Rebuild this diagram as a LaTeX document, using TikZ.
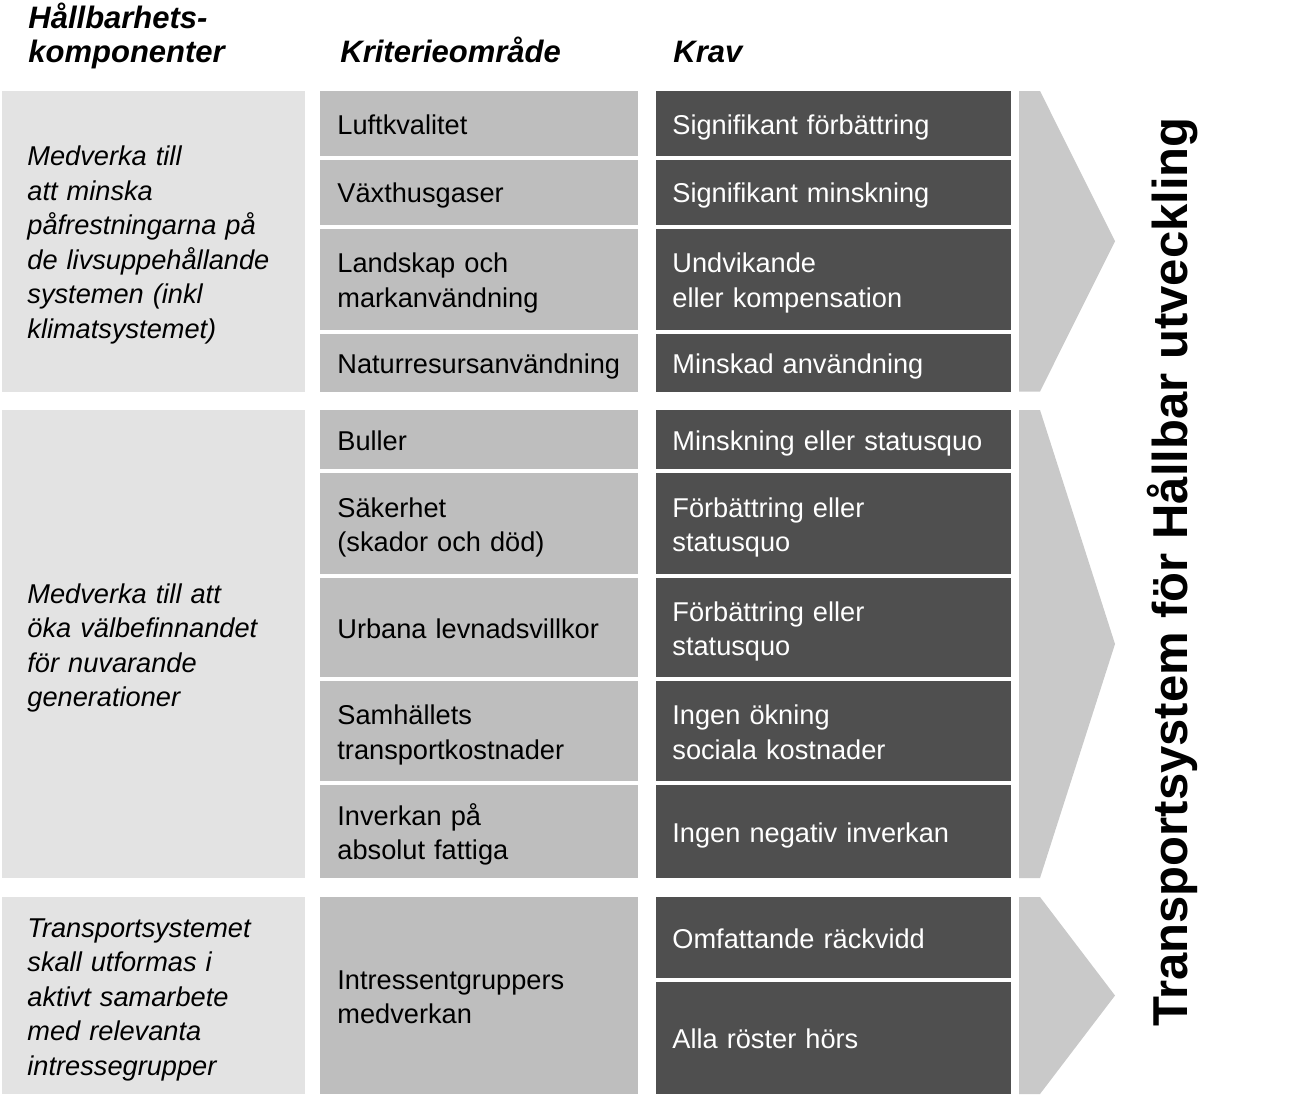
\documentclass[tikz,border=0pt]{standalone}
\usepackage{fontspec}
\setmainfont{Liberation Sans}
\definecolor{KompLight}{gray}{0.89}
\definecolor{KritGray}{gray}{0.745}
\definecolor{KravDark}{gray}{0.31}
\definecolor{ArrowGray}{gray}{0.79}
\newcommand\RowStrut{\rule[-5pt]{0pt}{20.6pt}}

\begin{document}
\begin{tikzpicture}[x=0.5pt,y=-0.5pt,
    BodyFont/.style={font=\fontsize{13.6}{17.25}\selectfont},
    HeadFont/.style={font=\fontsize{15.5}{17}\selectfont\bfseries\itshape},
    KompBox/.style={BodyFont,fill=KompLight,anchor=north west,inner xsep=12.5pt,
      text width=126.5pt,align=left,minimum width=151.5pt,font=\fontsize{13.6}{17.25}\selectfont\itshape},
    KritBox/.style={BodyFont,fill=KritGray,anchor=north west,inner xsep=8.5pt,
      text width=142pt,align=left,minimum width=159pt},
    KravBox/.style={BodyFont,fill=KravDark,text=white,anchor=north west,inner xsep=8pt,
      text width=161.5pt,align=left,minimum width=177.5pt}]
    \useasboundingbox (0,0) rectangle (1299,1098);
    % column heads
    \node[HeadFont,anchor=base west,align=left,inner sep=0pt] (HeadKomp) at (28,62) {Hållbarhets-\\komponenter};
    \node[HeadFont,anchor=base west,inner sep=0pt] (HeadKrit) at (340,62) {Kriterieområde};
    \node[HeadFont,anchor=base west,inner sep=0pt] (HeadKrav) at (673,62) {Krav};
    % chevrons, one per band
    \foreach \t/\b in {91/391.5, 410/878, 897/1094}{
      \fill[ArrowGray] (1019,\t) -- (1040,\t) -- (1115,{(\t+\b)/2})
        -- (1040,\b) -- (1019,\b) -- cycle;
    }
    % sustainability components
    \foreach \t/\b/\txt [count=\i] in {
      91/391.5/{Medverka till\\att minska\\påfrestningarna på\\de livsuppehållande\\systemen (inkl\\klimatsystemet)},
      410/878/{Medverka till att\\öka välbefinnandet\\för nuvarande\\generationer},
      897/1094/{Transportsystemet\\skall utformas i\\aktivt samarbete\\med relevanta\\intressegrupper}}{
      \node[KompBox,minimum height={(\b-\t)*0.5pt}] (Komp\i) at (2,\t) {\RowStrut\txt\strut};
    }
    % criteria areas
    \foreach \t/\b/\txt [count=\i] in {
      91/155.5/Luftkvalitet, 159.5/224.5/Växthusgaser,
      228.5/329.5/{Landskap och\\markanvändning}, 333.5/391.5/Naturresursanvändning,
      410/469/Buller, 473/574/{Säkerhet\\(skador och död)},
      578/677/Urbana levnadsvillkor, 681/781/{Samhällets\\transportkostnader},
      785/878/{Inverkan på\\absolut fattiga}, 897/1094/{Intressentgruppers\\medverkan}}{
      \node[KritBox,minimum height={(\b-\t)*0.5pt}] (Krit\i) at (320,\t) {\RowStrut\txt\strut};
    }
    % requirements
    \foreach \t/\b/\txt [count=\i] in {
      91/155.5/Signifikant förbättring, 159.5/224.5/Signifikant minskning,
      228.5/329.5/{Undvikande\\eller kompensation}, 333.5/391.5/Minskad användning,
      410/469/Minskning eller statusquo, 473/574/{Förbättring eller\\statusquo},
      578/677/{Förbättring eller\\statusquo}, 681/781/{Ingen ökning\\sociala kostnader},
      785/878/Ingen negativ inverkan, 897/978/Omfattande räckvidd,
      982/1094/Alla röster hörs}{
      \node[KravBox,minimum height={(\b-\t)*0.5pt}] (Krav\i) at (656,\t) {\RowStrut\txt\strut};
    }
    % overall goal
    \node[rotate=90,anchor=base,inner sep=0pt,font=\fontsize{24.5}{28}\selectfont\bfseries]
      (Goal) at (1187,572) {Transportsystem för Hållbar utveckling};
  \end{tikzpicture}
\end{document}
